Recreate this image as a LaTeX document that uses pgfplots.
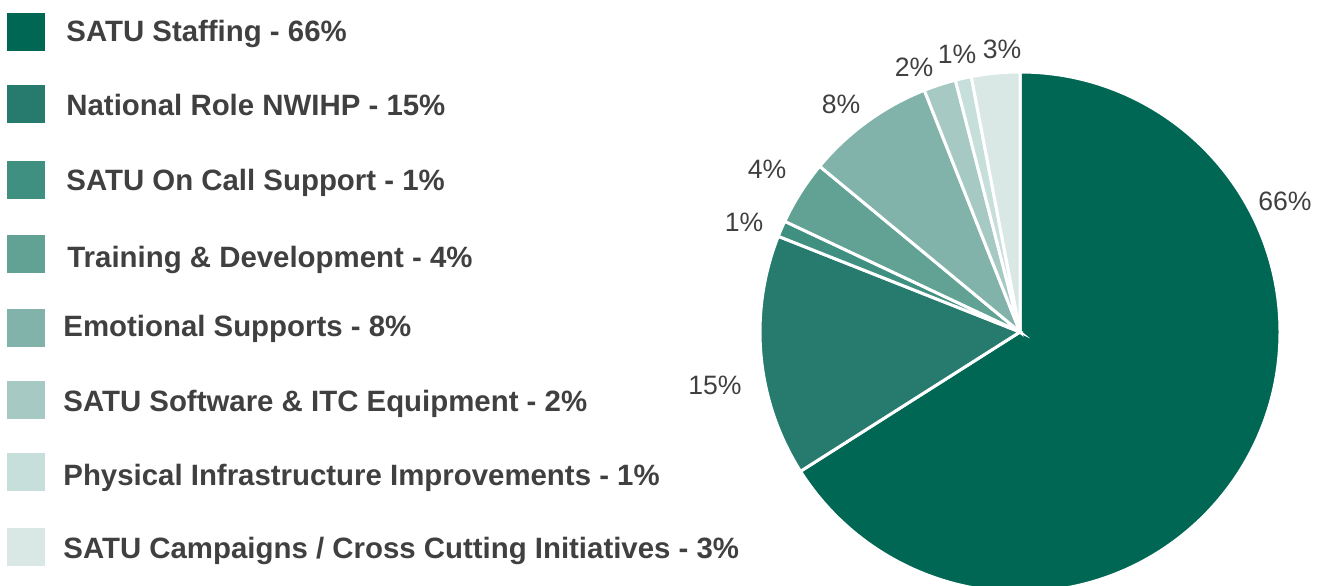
\documentclass[border=0pt]{standalone}
\usepackage{pgfplots}
\pgfplotsset{compat=1.18}
\usepackage{pgfplotstable}
\usepackage{fontspec}
\setmainfont{Liberation Sans}
\definecolor{c1}{HTML}{006754}
\definecolor{c2}{HTML}{267B6E}
\definecolor{c3}{HTML}{3F9081}
\definecolor{c4}{HTML}{61A295}
\definecolor{c5}{HTML}{82B3AA}
\definecolor{c6}{HTML}{A6CAC3}
\definecolor{c7}{HTML}{C6DFDA}
\definecolor{c8}{HTML}{D9E8E5}
\definecolor{txt}{HTML}{404040}

\pgfplotstableread[col sep=comma]{
name,value,color
SATU Staffing,66,c1
National Role NWIHP,15,c2
SATU On Call Support,1,c3
Training and Development,4,c4
Emotional Supports,8,c5
SATU Software and ITC Equipment,2,c6
Physical Infrastructure Improvements,1,c7
SATU Campaigns / Cross Cutting Initiatives,3,c8
}\piedata

\begin{document}
\xdef\cur{90}\gdef\pieslices{}%
\pgfplotsinvokeforeach{0,...,7}{%
  \pgfplotstablegetelem{#1}{value}\of\piedata \let\v\pgfplotsretval
  \pgfplotstablegetelem{#1}{color}\of\piedata \let\c\pgfplotsretval
  \pgfmathsetmacro\nxt{\cur-3.6*\v}%
  \xdef\pieslices{\unexpanded\expandafter{\pieslices}\noexpand\fill[fill=\c,draw=white,line width=1.5pt] (axis cs:1020,253) -- ++(\cur:130pt) arc[start angle=\cur,end angle=\nxt,radius=130pt] -- cycle;}%
  \xdef\cur{\nxt}%
}%
\begin{tikzpicture}
\begin{axis}[x=0.5pt,y=0.5pt,xmin=0,xmax=1324,ymin=0,ymax=585,hide axis,clip=true]
\pieslices
% value labels
\begin{scope}[every node/.style={font=\fontsize{13.3}{15}\selectfont,text=txt}]
\node at (axis cs:1285,384) {66\%};
\node at (axis cs:715,200) {15\%};
\node at (axis cs:744,363) {1\%};
\node at (axis cs:767,416) {4\%};
\node at (axis cs:841,481) {8\%};
\node at (axis cs:914,518) {2\%};
\node at (axis cs:957,531) {1\%};
\node at (axis cs:1002,536) {3\%};
\end{scope}
% legend
\fill[c1] (axis cs:7,572) rectangle (axis cs:45,534);
\fill[c2] (axis cs:7,500) rectangle (axis cs:45,462);
\fill[c3] (axis cs:7,424) rectangle (axis cs:45,386);
\fill[c4] (axis cs:7,350) rectangle (axis cs:45,312);
\fill[c5] (axis cs:7,276) rectangle (axis cs:45,238);
\fill[c6] (axis cs:7,204) rectangle (axis cs:45,166);
\fill[c7] (axis cs:7,132) rectangle (axis cs:45,94);
\fill[c8] (axis cs:7,57) rectangle (axis cs:45,19);
\begin{scope}[every node/.style={font=\fontsize{14.7}{17}\selectfont\bfseries,text=txt,anchor=base west,inner sep=0pt}]
\node at (axis cs:66,543) {SATU Staffing - 66\%};
\node at (axis cs:66,469) {National Role NWIHP - 15\%};
\node at (axis cs:66,394) {SATU On Call Support - 1\%};
\node at (axis cs:67,318) {Training \& Development - 4\%};
\node at (axis cs:63,249) {Emotional Supports - 8\%};
\node at (axis cs:63,174) {SATU Software \& ITC Equipment - 2\%};
\node at (axis cs:63,100) {Physical Infrastructure Improvements - 1\%};
\node at (axis cs:63,27) {SATU Campaigns / Cross Cutting Initiatives - 3\%};
\end{scope}
\end{axis}
\pgfresetboundingbox
\useasboundingbox (0,0) rectangle (662pt,292.5pt);
\end{tikzpicture}
\end{document}
